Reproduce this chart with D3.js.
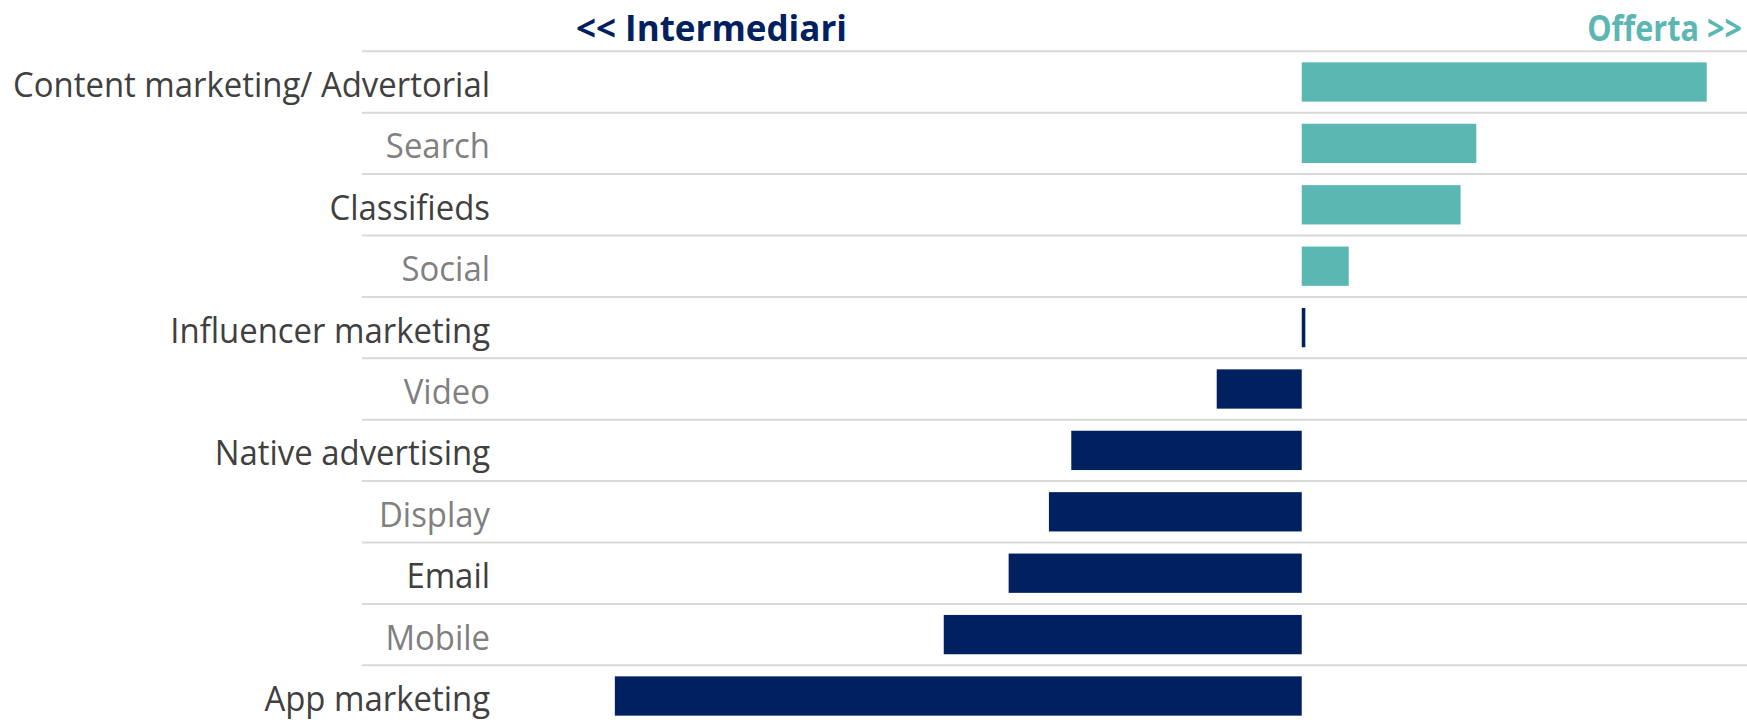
<!DOCTYPE html>
<html>
<head>
<meta charset="utf-8">
<script src="https://cdn.jsdelivr.net/npm/d3@7"></script>
<style>
  html, body { margin: 0; padding: 0; background: #fff; }
  svg { display: block; font-family: "Open Sans", sans-serif; }
</style>
</head>
<body>
<div id="main"></div>
<script>
// categories, top to bottom
const categories = [
  "Content marketing/ Advertorial",
  "Search",
  "Classifieds",
  "Social",
  "Influencer marketing",
  "Video",
  "Native advertising",
  "Display",
  "Email",
  "Mobile",
  "App marketing"
];
// balance (offerta > 0, intermediari < 0)
const values = [18.1, 7.8, 7.1, 2.1, 0.16, -3.8, -10.3, -11.3, -13.1, -16.0, -30.7];
// which side each channel leans to
const sides = ["Offerta", "Offerta", "Offerta", "Offerta", "Intermediari",
  "Intermediari", "Intermediari", "Intermediari", "Intermediari", "Intermediari", "Intermediari"];
const headers = ["<< Intermediari", "Offerta >>"];

const W = 1747, H = 724;
const margin = { top: 51.3, left: 362, right: 0 };
const step = 61.4;

const svg = d3.select("#main").append("svg")
  .attr("width", W)
  .attr("height", H);

const x = d3.scaleLinear()
  .domain([-42, 19.9])
  .range([margin.left, W - margin.right]);

const y = d3.scaleBand()
  .domain(categories)
  .range([margin.top, margin.top + step * categories.length])
  .paddingInner(0.36)
  .paddingOuter(0.18);

const color = d3.scaleOrdinal()
  .domain(["Offerta", "Intermediari"])
  .range(["#5bb7b2", "#002060"]);

// grid lines at the top of each row
svg.append("g")
  .selectAll("line")
  .data(categories)
  .join("line")
    .attr("x1", margin.left)
    .attr("x2", W)
    .attr("y1", d => y(d) - y.step() * y.paddingOuter())
    .attr("y2", d => y(d) - y.step() * y.paddingOuter())
    .attr("stroke", "#d9d9d9")
    .attr("stroke-width", 2);

// bars
svg.append("g")
  .selectAll("rect")
  .data(categories)
  .join("rect")
    .attr("x", (d, i) => x(Math.min(0, values[i])))
    .attr("width", (d, i) => Math.abs(x(values[i]) - x(0)))
    .attr("y", d => y(d))
    .attr("height", y.bandwidth())
    .attr("fill", (d, i) => color(sides[i]));

// category labels
const labelX = 490;
svg.append("g")
  .selectAll("text")
  .data(categories)
  .join("text")
    .attr("transform", d => "translate(" + labelX + "," + (y(d) + y.bandwidth() / 2 + 15) + ") scale(0.94,1)")
    .attr("text-anchor", "end")
    .attr("font-size", 35)
    .attr("fill", (d, i) => i % 2 === 0 ? "#404040" : "#808080")
    .text(d => d);

// headers
svg.append("text")
  .attr("transform", "translate(847,41)")
  .attr("text-anchor", "end")
  .attr("font-size", 35)
  .attr("font-weight", "bold")
  .attr("fill", color("Intermediari"))
  .text(headers[0]);

svg.append("text")
  .attr("transform", "translate(1742,41) scale(0.875,1)")
  .attr("text-anchor", "end")
  .attr("font-size", 35)
  .attr("font-weight", "bold")
  .attr("fill", color("Offerta"))
  .text(headers[1]);
</script>
</body>
</html>
